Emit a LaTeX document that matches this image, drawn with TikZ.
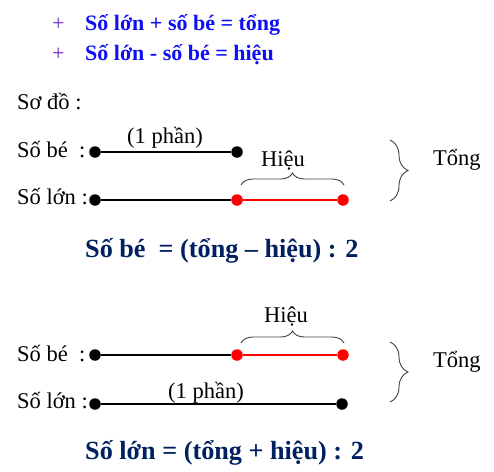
\documentclass[tikz,border=0pt]{standalone}
\usepackage{fontspec}
\setmainfont{Liberation Serif}
\usetikzlibrary{positioning, decorations.pathreplacing}

\definecolor{ruleblue}{RGB}{15,15,245}
\definecolor{plusviolet}{RGB}{110,40,200}
\definecolor{navy}{RGB}{0,32,96}

\begin{document}
\begin{tikzpicture}[x=1pt,y=-1pt,
  lbl/.style={anchor=base west,inner sep=0pt,font=\fontsize{22.5}{27}\selectfont},
  rule/.style={anchor=base west,inner sep=0pt,text=ruleblue,font=\bfseries\fontsize{22}{26}\selectfont},
  plus/.style={anchor=base west,inner sep=0pt,text=plusviolet,font=\fontsize{22}{26}\selectfont},
  formula/.style={anchor=base west,inner sep=0pt,text=navy,font=\bfseries\fontsize{26.2}{31}\selectfont},
  dot/.style={circle,fill=black,inner sep=0pt,minimum size=11.5pt},
  reddot/.style={dot,fill=red},
  seg/.style={line width=1.4pt},
  brc/.style={decorate,decoration={brace,amplitude=#1},line width=0.9pt,black!75}]

\useasboundingbox (0,0) rectangle (494,471);

% rules
\node[plus] (plus1) at (52,30) {+};
\node[rule] (rule1) at (85,30) {Số lớn + số bé = tổng};
\node[plus] (plus2) at (52,60) {+};
\node[rule] (rule2) at (85,60) {Số lớn - số bé = hiệu};

\node[lbl] (sodo) at (17,109) {Sơ đồ :};

% first diagram
\node[lbl] (be1) at (17,157) {Số bé\ \ :};
\node[lbl] (lon1) at (17,204) {Số lớn :};
\node[dot] (a1) at (95,152) {};
\node[dot] (b1) at (237,152) {};
\node[dot] (c1) at (95,200) {};
\node[reddot] (d1) at (237,200) {};
\node[reddot] (e1) at (343,200) {};
\draw[seg] (a1) -- (b1);
\draw[seg] (c1) -- (d1);
\draw[seg,red] (d1) -- (e1);
\node[lbl,anchor=base] (phan1) at (165,143) {(1 phần)};
%
\coordinate (h1l) at (241,185);
\coordinate (h1r) at (344,185);
\draw[brc=12] (h1l) -- (h1r);
\node[lbl,anchor=base] (hieu1) at (283,166) {Hiệu};
\coordinate (t1a) at (390,140);
\coordinate (t1b) at (390,201);
\draw[brc=18] (t1a) -- (t1b);
\node[lbl] (tong1) at (433,165) {Tổng};

\node[formula] (form1) at (85,257) {Số bé\ \ = (tổng – hiệu) : 2};

% second diagram
\node[lbl] (be2) at (17,361) {Số bé\ \ :};
\node[lbl] (lon2) at (17,408) {Số lớn :};
\node[dot] (a2) at (95,355) {};
\node[reddot] (b2) at (237,355) {};
\node[reddot] (c2) at (343,355) {};
\node[dot] (d2) at (95,404) {};
\node[dot] (e2) at (342,404) {};
\draw[seg] (a2) -- (b2);
\draw[seg,red] (b2) -- (c2);
\draw[seg] (d2) -- (e2);
\node[lbl,anchor=base] (phan2) at (206,398) {(1 phần)};
%
\coordinate (h2l) at (241,343);
\coordinate (h2r) at (344,343);
\draw[brc=12] (h2l) -- (h2r);
\node[lbl,anchor=base] (hieu2) at (286,322) {Hiệu};
\coordinate (t2a) at (390,342);
\coordinate (t2b) at (390,402);
\draw[brc=18] (t2a) -- (t2b);
\node[lbl] (tong2) at (433,367) {Tổng};

\node[formula] (form2) at (85,459) {Số lớn = (tổng + hiệu) : 2};

\end{tikzpicture}
\end{document}
